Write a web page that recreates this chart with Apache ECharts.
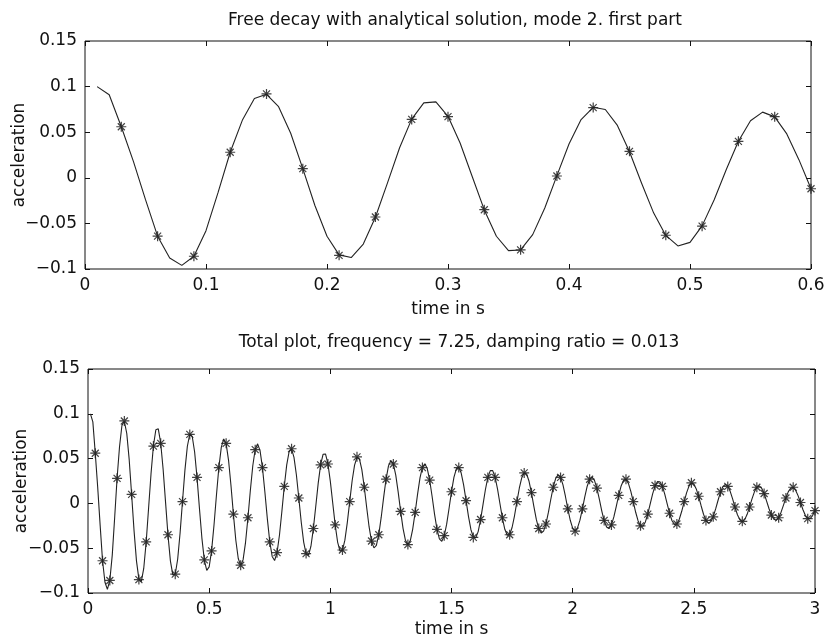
<!DOCTYPE html>
<html><head><meta charset="utf-8">
<script src="https://cdn.jsdelivr.net/npm/echarts@6/dist/echarts.min.js"></script>
<style>html,body{margin:0;padding:0;background:#fff}#c{width:831px;height:644px}</style>
</head><body><div id="c"></div>
<script>
const titleTop = 'Free decay with analytical solution, mode 2. first part';
const titleBottom = 'Total plot, frequency = 7.25, damping ratio = 0.013';
const xName = 'time in s';
const yName = 'acceleration';
const sampleStep = 0.01;   // s between samples of the analytical solution (first sample at 0.01 s)
const markerStep = 0.03;   // s between measured points (first at 0.03 s)
const topSamples = 60;     // first part: 0.01 .. 0.60 s
const topMarkers = 20;

// analytical solution, t = 0.01 .. 3.00 s
const acceleration = [
 0.100, 0.091, 0.056, 0.018, -0.024, -0.064, -0.088, -0.096, -0.086, -0.058, -0.016, 0.028, 0.063, 0.087,
 0.0916, 0.0780, 0.0488, 0.0100, -0.0304, -0.0641, -0.0845, -0.0874, -0.0726, -0.0433, -0.0055, 0.0329, 0.0643, 0.0822,
 0.0832, 0.0674, 0.0381, 0.0014, -0.0352, -0.0641, -0.0798, -0.0791, -0.0623, -0.0331, 0.0024, 0.0371, 0.0638, 0.0773,
 0.0749, 0.0574, 0.0285, -0.0059, -0.0387, -0.0632, -0.0747, -0.0708, -0.0527, -0.0241, 0.0091, 0.0400, 0.0625, 0.0720,
 0.0668, 0.0481, 0.0199, -0.0120, -0.0411, -0.0615, -0.0692, -0.0628, -0.0437, -0.0160, 0.0146, 0.0420, 0.0604, 0.0665,
 0.0589, 0.0396, 0.0124, -0.0170, -0.0426, -0.0592, -0.0637, -0.0551, -0.0356, -0.0090, 0.0191, 0.0430, 0.0579, 0.0608,
 0.0514, 0.0317, 0.0058, -0.0210, -0.0432, -0.0564, -0.0580, -0.0478, -0.0281, -0.0029, 0.0226, 0.0432, 0.0548, 0.0552,
 0.0443, 0.0246, 0.0002, -0.0240, -0.0431, -0.0532, -0.0524, -0.0410, -0.0214, 0.0023, 0.0253, 0.0428, 0.0515, 0.0496,
 0.0377, 0.0183, -0.0046, -0.0263, -0.0424, -0.0497, -0.0469, -0.0345, -0.0154, 0.0067, 0.0272, 0.0419, 0.0479, 0.0442,
 0.0315, 0.0126, -0.0086, -0.0278, -0.0412, -0.0460, -0.0415, -0.0286, -0.0101, 0.0103, 0.0284, 0.0404, 0.0442, 0.0389,
 0.0258, 0.0077, -0.0119, -0.0287, -0.0396, -0.0423, -0.0364, -0.0232, -0.0054, 0.0132, 0.0290, 0.0386, 0.0404, 0.0339,
 0.0206, 0.0033, -0.0144, -0.0291, -0.0376, -0.0385, -0.0315, -0.0182, -0.0014, 0.0155, 0.0291, 0.0366, 0.0366, 0.0292,
 0.0159, -0.0004, -0.0164, -0.0289, -0.0355, -0.0347, -0.0269, -0.0138, 0.0020, 0.0172, 0.0287, 0.0343, 0.0328, 0.0247,
 0.0117, -0.0035, -0.0179, -0.0284, -0.0331, -0.0310, -0.0226, -0.0098, 0.0049, 0.0184, 0.0280, 0.0319, 0.0292, 0.0206,
 0.0080, -0.0061, -0.0188, -0.0276, -0.0306, -0.0274, -0.0187, -0.0063, 0.0073, 0.0192, 0.0270, 0.0293, 0.0257, 0.0168,
 0.0047, -0.0083, -0.0194, -0.0264, -0.0281, -0.0240, -0.0151, -0.0032, 0.0091, 0.0195, 0.0258, 0.0268, 0.0223, 0.0134,
 0.0019, -0.0099, -0.0196, -0.0251, -0.0255, -0.0207, -0.0118, -0.0006, 0.0106, 0.0195, 0.0244, 0.0242, 0.0192, 0.0103,
 -0.0006, -0.0112, -0.0194, -0.0236, -0.0230, -0.0177, -0.0088, 0.0017, 0.0117, 0.0193, 0.0228, 0.0217, 0.0162, 0.0075,
 -0.0026, -0.0121, -0.0191, -0.0220, -0.0205, -0.0148, -0.0062, 0.0035, 0.0125, 0.0188, 0.0212, 0.0193, 0.0135, 0.0050,
 -0.0044, -0.0127, -0.0184, -0.0204, -0.0181, -0.0122, -0.0039, 0.0051, 0.0129, 0.0181, 0.0195, 0.0169, 0.0110, 0.0029,
 -0.0057, -0.0131, -0.0177, -0.0186, -0.0158, -0.0098, -0.0019, 0.0063, 0.0131, 0.0172, 0.0178, 0.0147, 0.0087, 0.0010,
 -0.0068, -0.0132, -0.0168, -0.0169, -0.0136, -0.0076
];

// measured points, t = 0.03 .. 3.00 s
const measured = [
 0.056, -0.064, -0.086, 0.028, 0.092, 0.010, -0.085, -0.043, 0.064, 0.067,
 -0.035, -0.079, 0.002, 0.077, 0.029, -0.063, -0.053, 0.040, 0.067, -0.012,
 -0.069, -0.016, 0.060, 0.040, -0.043, -0.055, 0.019, 0.061, 0.006, -0.056,
 -0.028, 0.043, 0.044, -0.024, -0.052, 0.002, 0.052, 0.018, -0.042, -0.035,
 0.027, 0.044, -0.009, -0.046, -0.010, 0.040, 0.026, -0.029, -0.036, 0.013,
 0.040, 0.003, -0.038, -0.018, 0.029, 0.029, -0.016, -0.035, 0.002, 0.034,
 0.012, -0.028, -0.023, 0.018, 0.029, -0.006, -0.031, -0.006, 0.027, 0.017,
 -0.019, -0.024, 0.009, 0.027, 0.002, -0.025, -0.012, 0.020, 0.019, -0.011,
 -0.023, 0.002, 0.023, 0.008, -0.019, -0.015, 0.013, 0.019, -0.004, -0.020,
 -0.004, 0.018, 0.011, -0.013, -0.016, 0.006, 0.018, 0.001, -0.017, -0.008
];

const yTickLabels = ['\u22120.1', '\u22120.05', '0', '0.05', '0.1', '0.15'];
const xTickLabelsTop = ['0', '0.1', '0.2', '0.3', '0.4', '0.5', '0.6'];
const xTickLabelsBottom = ['0', '0.5', '1', '1.5', '2', '2.5', '3'];

const FONT = 'DejaVu Sans';
const INK = '#111';
const asterisk = 'path://M5,0L5,10M0,5L10,5M1.5,1.5L8.5,8.5M1.5,8.5L8.5,1.5';

const yMin = -0.1, yMax = 0.15, yInt = 0.05;
function labelFrom(list, min, interval) {
  return v => list[Math.round((v - min) / interval)] ?? '';
}
const tick = { show: true, inside: true, length: 5, lineStyle: { color: INK, width: 1 } };
const lbl = (fmt, show) => ({ show, formatter: fmt, fontFamily: FONT, fontSize: 17, color: INK, margin: 8 });
const nameStyle = { fontFamily: FONT, fontSize: 17, color: INK };
const noLine = { show: false, onZero: false };

function xAxes(grid, max, interval, labels, nameGap) {
  const base = { type: 'value', gridIndex: grid, min: 0, max, interval,
    axisLine: noLine, splitLine: { show: false }, axisTick: tick };
  return [
    Object.assign({}, base, { position: 'bottom', axisLabel: lbl(labelFrom(labels, 0, interval), true),
      name: xName, nameLocation: 'middle', nameGap, nameMoveOverlap: false, nameTextStyle: nameStyle }),
    Object.assign({}, base, { position: 'top', axisLabel: { show: false } })
  ];
}
function yAxes(grid, nameGap) {
  const base = { type: 'value', gridIndex: grid, min: yMin, max: yMax, interval: yInt,
    axisLine: noLine, splitLine: { show: false }, axisTick: tick };
  return [
    Object.assign({}, base, { position: 'left', axisLabel: lbl(labelFrom(yTickLabels, yMin, yInt), true),
      name: yName, nameLocation: 'middle', nameGap, nameMoveOverlap: false, nameTextStyle: nameStyle }),
    Object.assign({}, base, { position: 'right', axisLabel: { show: false } })
  ];
}

const t = i => +((i + 1) * sampleStep).toFixed(2);
const tm = k => +((k + 1) * markerStep).toFixed(2);
const linePts = n => acceleration.slice(0, n).map((v, i) => [t(i), v]);
const markPts = n => measured.slice(0, n).map((v, k) => [tm(k), v]);

const lineSeries = (xi, yi, data) => ({ type: 'line', xAxisIndex: xi, yAxisIndex: yi, data,
  showSymbol: false, symbol: 'none', lineStyle: { color: '#222', width: 1.1 }, silent: true, animation: false });
const markSeries = (xi, yi, data) => ({ type: 'scatter', xAxisIndex: xi, yAxisIndex: yi, data,
  symbol: asterisk, symbolSize: 10,
  itemStyle: { color: 'rgba(0,0,0,0)', borderColor: INK, borderWidth: 1.2 }, silent: true, animation: false });

const chart = echarts.init(document.getElementById('c'), null, { renderer: 'canvas' });
chart.setOption({
  backgroundColor: '#fff',
  animation: false,
  title: [
    { text: titleTop, left: 450, top: 7, textAlign: 'center',
      textStyle: { fontFamily: FONT, fontSize: 17, fontWeight: 'normal', color: INK } },
    { text: titleBottom, left: 454, top: 329, textAlign: 'center',
      textStyle: { fontFamily: FONT, fontSize: 17, fontWeight: 'normal', color: INK } }
  ],
  grid: [
    { left: 85, top: 41, width: 726, height: 228, show: true, borderColor: INK, borderWidth: 1,
      backgroundColor: 'transparent', containLabel: false, outerBoundsMode: 'none' },
    { left: 88, top: 369, width: 727, height: 224, show: true, borderColor: INK, borderWidth: 1,
      backgroundColor: 'transparent', containLabel: false, outerBoundsMode: 'none' }
  ],
  xAxis: [
    ...xAxes(0, 0.6, 0.1, xTickLabelsTop, 32),
    ...xAxes(1, 3, 0.5, xTickLabelsBottom, 28)
  ],
  yAxis: [
    ...yAxes(0, 57),
    ...yAxes(1, 58)
  ],
  series: [
    lineSeries(0, 0, linePts(topSamples)),
    markSeries(0, 0, markPts(topMarkers)),
    lineSeries(2, 2, linePts(acceleration.length)),
    markSeries(2, 2, markPts(measured.length))
  ]
});
</script>
</body></html>
